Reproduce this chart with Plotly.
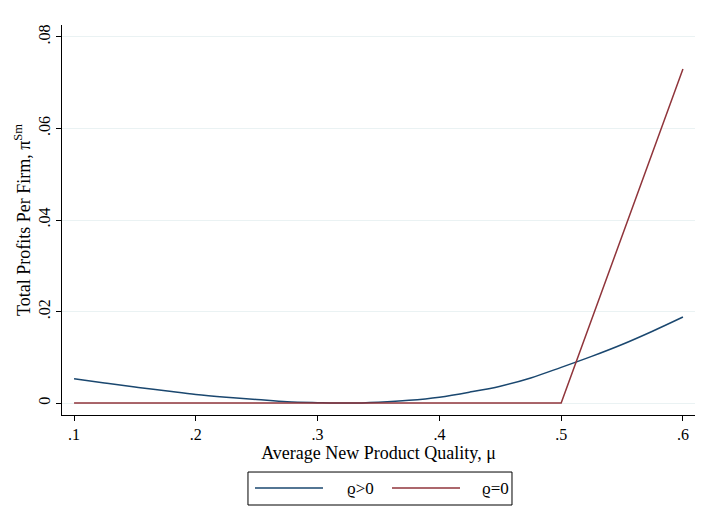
import plotly.graph_objects as go

mu = [0.1, 0.125, 0.15, 0.175, 0.2, 0.225, 0.25, 0.275, 0.3, 0.325, 0.35, 0.375, 0.4,
      0.425, 0.45, 0.475, 0.5, 0.525, 0.55, 0.575, 0.6]
profit_pos = [0.0053, 0.0044, 0.0035, 0.0027, 0.0019, 0.0013, 0.0008, 0.0003, 0.0001, 0.0000,
              0.0002, 0.0006, 0.0013, 0.0024, 0.0037, 0.0055, 0.0078, 0.0102, 0.0128, 0.0157, 0.0188]
mu_zero = [0.1, 0.2, 0.3, 0.4, 0.5, 0.6]
profit_zero = [0.0, 0.0, 0.0, 0.0, 0.0, 0.073]

series_names = ["ϱ>0", "ϱ=0"]
series_colors = ["#1a476f", "#90353b"]

xticks = [0.1, 0.2, 0.3, 0.4, 0.5, 0.6]
xticklabels = [".1", ".2", ".3", ".4", ".5", ".6"]
yticks = [0, 0.02, 0.04, 0.06, 0.08]
yticklabels = ["0", ".02", ".04", ".06", ".08"]

fig = go.Figure()
fig.add_trace(go.Scatter(x=mu, y=profit_pos, mode="lines", name=series_names[0],
                         line=dict(color=series_colors[0], width=1.5, shape="spline")))
fig.add_trace(go.Scatter(x=mu_zero, y=profit_zero, mode="lines", name=series_names[1],
                         line=dict(color=series_colors[1], width=1.5)))

# manual legend box (paper coordinates)
fig.add_shape(type="rect", xref="paper", yref="paper", x0=0.2938, x1=0.7109, y0=-0.2308, y1=-0.1462,
              line=dict(color="black", width=1), fillcolor="white")
legend_line_x = [(0.3049, 0.4123), (0.5213, 0.6288)]
legend_text_x = [0.4471, 0.6603]
for i in range(2):
    fig.add_shape(type="line", xref="paper", yref="paper", x0=legend_line_x[i][0], x1=legend_line_x[i][1],
                  y0=-0.1872, y1=-0.1872, line=dict(color=series_colors[i], width=1.5))
    fig.add_annotation(xref="paper", yref="paper", x=legend_text_x[i], y=-0.1872, xanchor="left",
                       yanchor="middle", text=series_names[i], showarrow=False,
                       font=dict(family="Liberation Serif", size=17, color="black"))

fig.update_layout(
    width=703, height=528,
    margin=dict(l=54, r=16, t=17, b=121, autoexpand=False),
    paper_bgcolor="white", plot_bgcolor="white",
    font=dict(family="Liberation Serif", size=16, color="black"),
    showlegend=False,
    xaxis=dict(range=[0.0901, 0.6099], tickvals=xticks, ticktext=xticklabels, automargin=False,
               showgrid=False, zeroline=False, showline=True, linecolor="black", linewidth=1,
               ticks="outside", ticklen=5, tickcolor="black", tickfont=dict(size=16),
               title=dict(text="Average New Product Quality, μ", standoff=4,
                          font=dict(size=18))),
    yaxis=dict(range=[-0.0026, 0.0826], tickvals=yticks, ticktext=yticklabels, automargin=False,
               showgrid=True, gridcolor="#eaf2f3", gridwidth=1, zeroline=False,
               showline=True, linecolor="black", linewidth=1,
               ticks="outside", ticklen=5, tickcolor="black", tickangle=-90, tickfont=dict(size=16),
               title=dict(text="Total Profits Per Firm, π<sup>Sm</sup>", standoff=0,
                          font=dict(size=18))),
)
fig.write_html("out.html")
